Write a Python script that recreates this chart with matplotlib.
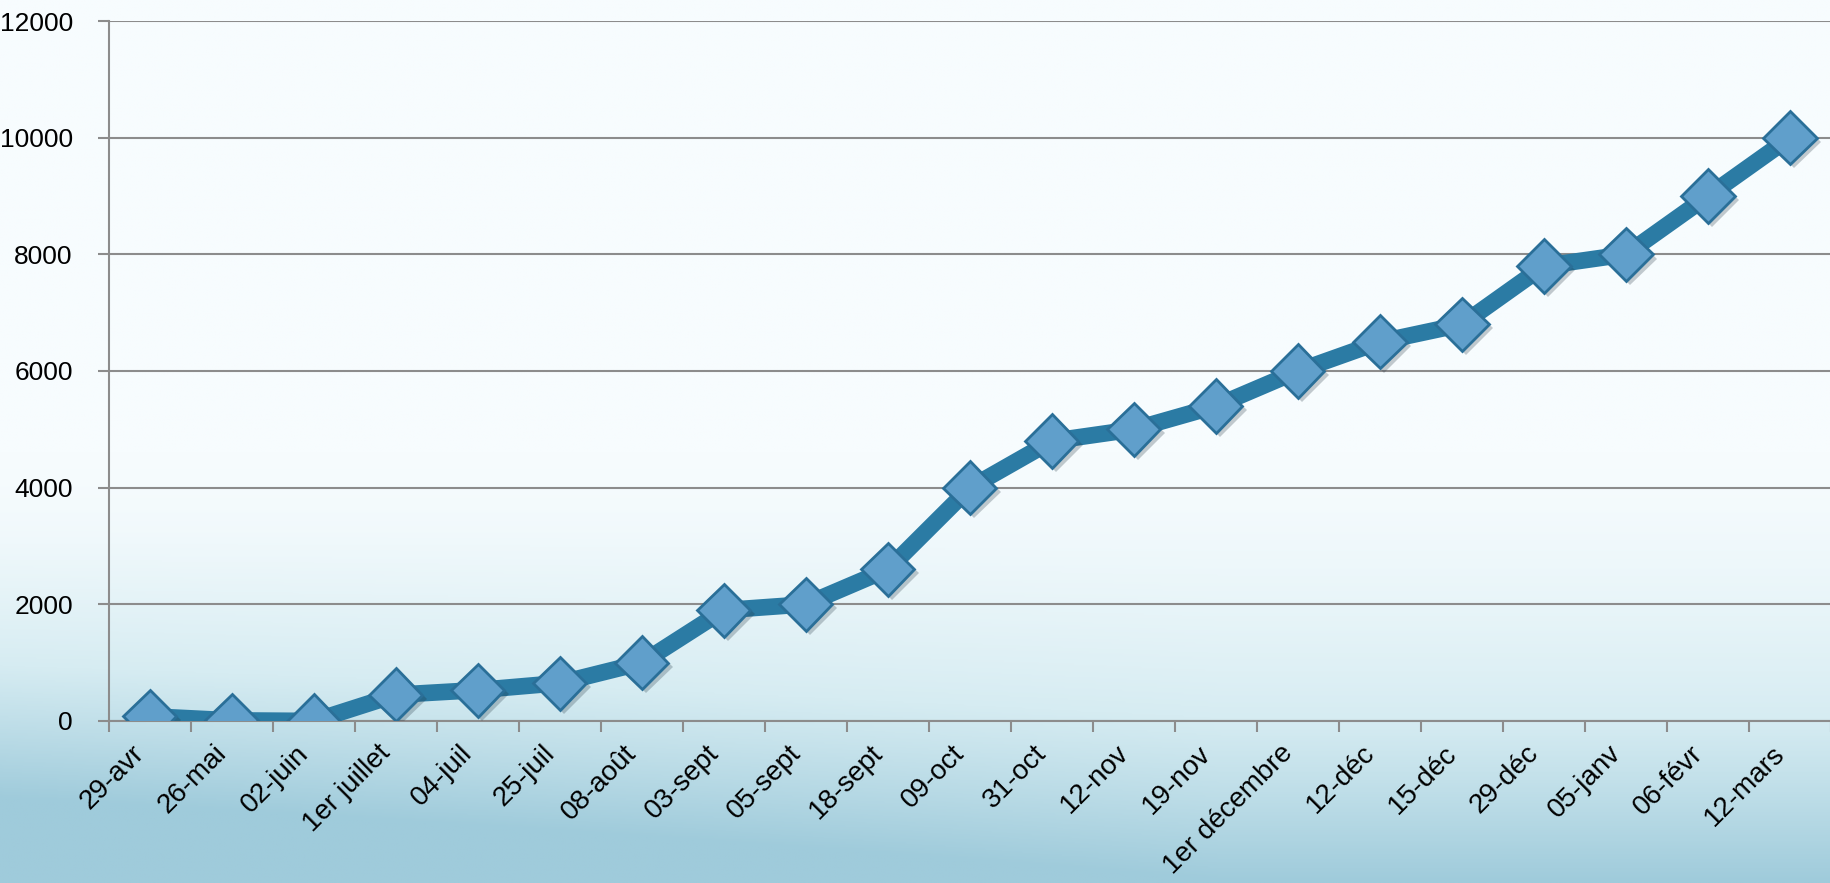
import matplotlib

matplotlib.use("Agg")

import matplotlib.pyplot as plt
import matplotlib.patheffects as pe
import numpy as np
from matplotlib.colors import LinearSegmentedColormap

plt.rcParams["font.family"] = ["Liberation Sans", "DejaVu Sans"]

dates = [
    "29-avr", "26-mai", "02-juin", "1er juillet", "04-juil", "25-juil",
    "08-août", "03-sept", "05-sept", "18-sept", "09-oct", "31-oct",
    "12-nov", "19-nov", "1er décembre", "12-déc", "15-déc", "29-déc",
    "05-janv", "06-févr", "12-mars",
]
counts = [
    80, 10, 0, 450, 530, 650, 1000, 1900, 2000, 2600, 4000, 4800,
    5000, 5400, 6000, 6500, 6800, 7800, 8000, 9000, 10000,
]
y_ticks = [0, 2000, 4000, 6000, 8000, 10000, 12000]

fig = plt.figure(figsize=(18.31, 8.83), dpi=100)

# background gradient (white at top, pale teal towards the bottom)
bg = fig.add_axes([0, 0, 1, 1], zorder=-10)
h, w = 300, 600
yy, xx = np.mgrid[0:1:h * 1j, 0:1:w * 1j]
t = np.clip((yy - 0.5) / 0.5, 0, 1) ** 1.5
t = t + 0.35 * np.clip(1 - xx * 1.5, 0, 1) * np.clip((yy - 0.6) / 0.4, 0, 1)
t = np.clip(t, 0, 1)
cmap = LinearSegmentedColormap.from_list("bg", ["#f7fcfe", "#d6ecf2", "#9fcbdb"])
bg.imshow(t, cmap=cmap, aspect="auto", extent=[0, 1, 0, 1], origin="upper")
bg.axis("off")

ax = fig.add_axes([0.0595, 0.1835, 0.9405, 0.7927])
ax.set_facecolor("none")
x = np.arange(len(dates))
ax.plot(x, counts, color="#2b7ba4", linewidth=12, solid_joinstyle="round",
        zorder=3)
ax.plot(x, counts, linestyle="none", marker="D", markersize=27,
        markerfacecolor="#609fcb", markeredgecolor="#2a6f98",
        markeredgewidth=2, zorder=4,
        path_effects=[pe.SimplePatchShadow(offset=(3, -3), alpha=0.25),
                      pe.Normal()])

ax.set_xlim(-0.5, len(dates) - 0.5)
ax.set_ylim(0, 12000)
ax.set_yticks(y_ticks)
ax.set_yticklabels([str(v) for v in y_ticks], fontsize=19)
ax.yaxis.grid(True, color="#8c8c8c", linewidth=1.5)
ax.set_axisbelow(True)

ax.set_xticks(np.arange(len(dates) + 1) - 0.5)
ax.set_xticklabels([])
ax.set_xticks(x, minor=True)
ax.set_xticklabels(dates, minor=True, rotation=45, ha="right", va="top",
                   fontsize=20)
ax.tick_params(axis="x", which="major", length=8, width=1.5, color="#8c8c8c")
ax.tick_params(axis="x", which="minor", length=0, pad=14)
ax.tick_params(axis="y", length=8, width=1.5, color="#8c8c8c", pad=18)

for side in ["top", "right"]:
    ax.spines[side].set_visible(False)
for side in ["left", "bottom"]:
    ax.spines[side].set_color("#8c8c8c")
    ax.spines[side].set_linewidth(1.5)

fig.savefig("out.png", dpi=100)
plt.close(fig)
